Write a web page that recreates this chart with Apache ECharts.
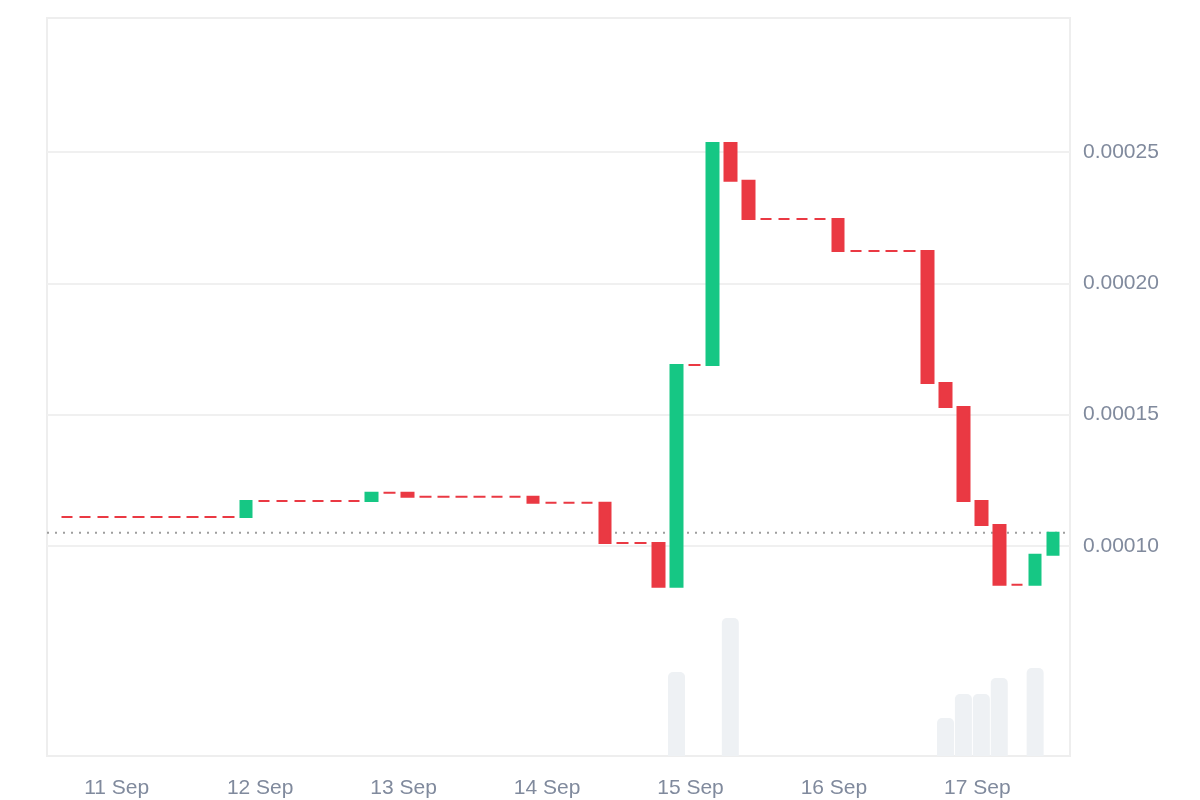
<!DOCTYPE html>
<html>
<head>
<meta charset="utf-8">
<script src="https://cdn.jsdelivr.net/npm/echarts@6/dist/echarts.min.js"></script>
<style>
  html, body { margin: 0; padding: 0; background: #ffffff; }
  #chart { width: 1200px; height: 800px; }
</style>
</head>
<body>
<div id="chart"></div>
<script>
// ---- Data (3-hour candles) ----
const times = [
  '2024-09-10 15:40', '2024-09-10 18:40', '2024-09-10 21:40',
  '2024-09-11 00:40', '2024-09-11 03:40', '2024-09-11 06:40', '2024-09-11 09:40',
  '2024-09-11 12:40', '2024-09-11 15:40', '2024-09-11 18:40', '2024-09-11 21:40',
  '2024-09-12 00:40', '2024-09-12 03:40', '2024-09-12 06:40', '2024-09-12 09:40',
  '2024-09-12 12:40', '2024-09-12 15:40', '2024-09-12 18:40', '2024-09-12 21:40',
  '2024-09-13 00:40', '2024-09-13 03:40', '2024-09-13 06:40', '2024-09-13 09:40',
  '2024-09-13 12:40', '2024-09-13 15:40', '2024-09-13 18:40', '2024-09-13 21:40',
  '2024-09-14 00:40', '2024-09-14 03:40', '2024-09-14 06:40', '2024-09-14 09:40',
  '2024-09-14 12:40', '2024-09-14 15:40', '2024-09-14 18:40', '2024-09-14 21:40',
  '2024-09-15 00:40', '2024-09-15 03:40', '2024-09-15 06:40', '2024-09-15 09:40',
  '2024-09-15 12:40', '2024-09-15 15:40', '2024-09-15 18:40', '2024-09-15 21:40',
  '2024-09-16 00:40', '2024-09-16 03:40', '2024-09-16 06:40', '2024-09-16 09:40',
  '2024-09-16 12:40', '2024-09-16 15:40', '2024-09-16 18:40', '2024-09-16 21:40',
  '2024-09-17 00:40', '2024-09-17 03:40', '2024-09-17 06:40', '2024-09-17 09:40',
  '2024-09-17 12:40'
];

const opens = [
  0.0001110, 0.0001110, 0.0001110, 0.0001110, 0.0001110, 0.0001110, 0.0001110, 0.0001110,
  0.0001110, 0.0001110, 0.0001110, 0.0001171, 0.0001171, 0.0001171, 0.0001171, 0.0001171,
  0.0001171, 0.0001171, 0.0001202, 0.0001202, 0.0001187, 0.0001187, 0.0001187, 0.0001187,
  0.0001187, 0.0001187, 0.0001187, 0.0001164, 0.0001164, 0.0001164, 0.0001164, 0.0001011,
  0.0001011, 0.0001011, 0.0000844, 0.0001689, 0.0001689, 0.0002534, 0.0002390, 0.0002245,
  0.0002245, 0.0002245, 0.0002245, 0.0002245, 0.0002123, 0.0002123, 0.0002123, 0.0002123,
  0.0002123, 0.0001620, 0.0001529, 0.0001171, 0.0001080, 0.0000852, 0.0000852, 0.0000966
];

const closes = [
  0.0001110, 0.0001110, 0.0001110, 0.0001110, 0.0001110, 0.0001110, 0.0001110, 0.0001110,
  0.0001110, 0.0001110, 0.0001171, 0.0001171, 0.0001171, 0.0001171, 0.0001171, 0.0001171,
  0.0001171, 0.0001202, 0.0001202, 0.0001187, 0.0001187, 0.0001187, 0.0001187, 0.0001187,
  0.0001187, 0.0001187, 0.0001164, 0.0001164, 0.0001164, 0.0001164, 0.0001011, 0.0001011,
  0.0001011, 0.0000844, 0.0001689, 0.0001689, 0.0002534, 0.0002390, 0.0002245, 0.0002245,
  0.0002245, 0.0002245, 0.0002245, 0.0002123, 0.0002123, 0.0002123, 0.0002123, 0.0002123,
  0.0001620, 0.0001529, 0.0001171, 0.0001080, 0.0000852, 0.0000852, 0.0000966, 0.0001050
];

// volume (thousands), 0 = no trades
const volumes = [
  0, 0, 0, 0, 0, 0, 0, 0, 0, 0, 0, 0, 0, 0, 0, 0,
  0, 0, 0, 0, 0, 0, 0, 0, 0, 0, 0, 0, 0, 0, 0, 0,
  0, 0, 8.4, 0, 0, 13.8, 0, 0, 0, 0, 0, 0, 0, 0, 0, 0,
  0, 3.8, 6.2, 6.2, 7.8, 0, 8.8, 0
];

const xTickDates = ['2024-09-11 00:00', '2024-09-12 00:00', '2024-09-13 00:00', '2024-09-14 00:00',
                    '2024-09-15 00:00', '2024-09-16 00:00', '2024-09-17 00:00'];
const xTickLabels = ['11 Sep', '12 Sep', '13 Sep', '14 Sep', '15 Sep', '16 Sep', '17 Sep'];
const yTickValues = [0.00010, 0.00015, 0.00020, 0.00025];

const xRange = ['2024-09-10 12:20', '2024-09-17 15:30'];
const priceRange = [0.00002, 0.000301];
const volumeMax = 73.8;

// ---- Build ----
const REF = '2024-09-11 00:00';
function toMs(s) {
  const [d, t] = s.split(' ');
  const [Y, M, D] = d.split('-').map(Number);
  const [h, m] = t.split(':').map(Number);
  return Date.UTC(Y, M - 1, D, h, m);
}
// hours relative to 11 Sep 00:00
function toH(s) { return (toMs(s) - toMs(REF)) / 3600000; }

const UP = '#16c784', DOWN = '#ea3943';
const tickH = xTickDates.map(toH);
const xMin = toH(xRange[0]), xMax = toH(xRange[1]);

const candleData = times.map((t, i) => [
  toH(t), opens[i], closes[i],
  Math.min(opens[i], closes[i]), Math.max(opens[i], closes[i])
]);
const volumeData = times.map((t, i) => [toH(t), volumes[i]]);
const lastClose = closes[closes.length - 1];

const chart = echarts.init(document.getElementById('chart'), null, { renderer: 'canvas' });
const labelFont = { color: '#808a9d', fontSize: 21, fontFamily: 'Liberation Sans, Arial, sans-serif' };

chart.setOption({
  animation: false,
  backgroundColor: '#ffffff',
  grid: {
    left: 47, right: 130, top: 18, bottom: 44,
    show: true, borderColor: '#eeeeee', borderWidth: 2, backgroundColor: 'transparent'
  },
  xAxis: {
    type: 'value',
    min: xMin, max: xMax,
    axisLine: { show: false },
    axisTick: { show: false, customValues: tickH },
    splitLine: { show: false },
    axisLabel: Object.assign({
      customValues: tickH,
      margin: 22,
      showMinLabel: true, showMaxLabel: true,
      formatter: v => {
        let k = -1;
        tickH.forEach((h, j) => { if (Math.abs(h - v) < 1e-6) k = j; });
        return k >= 0 ? xTickLabels[k] : '';
      }
    }, labelFont)
  },
  yAxis: [
    {
      type: 'value', position: 'right',
      min: priceRange[0], max: priceRange[1],
      axisLine: { show: false },
      axisTick: { show: false, customValues: yTickValues },
      splitLine: { show: true, lineStyle: { color: '#f0f0f0', width: 2 } },
      axisLabel: Object.assign({
        customValues: yTickValues,
        margin: 13,
        padding: [4, 0, 0, 0],
        showMinLabel: true, showMaxLabel: true,
        formatter: v => v.toFixed(5)
      }, labelFont)
    },
    {
      type: 'value', min: 0, max: volumeMax, show: false,
      splitLine: { show: false }
    }
  ],
  series: [
    {
      type: 'bar',
      yAxisIndex: 1,
      data: volumeData,
      barWidth: 17,
      z: 1,
      itemStyle: { color: '#eef1f4', borderRadius: [5, 5, 0, 0] },
      silent: true
    },
    {
      // last-price reference line across the plot
      type: 'line',
      yAxisIndex: 0,
      data: [[xMin, lastClose], [xMax, lastClose]],
      symbol: 'none',
      silent: true,
      z: 2,
      lineStyle: { color: '#9e9e9e', type: [2, 6], width: 2 }
    },
    {
      type: 'candlestick',
      yAxisIndex: 0,
      data: candleData,
      barWidth: 12,
      z: 3,
      itemStyle: {
        color: UP, color0: DOWN,
        borderColor: UP, borderColor0: DOWN,
        borderColorDoji: DOWN,
        borderWidth: 2
      }
    }
  ]
});
</script>
</body>
</html>
